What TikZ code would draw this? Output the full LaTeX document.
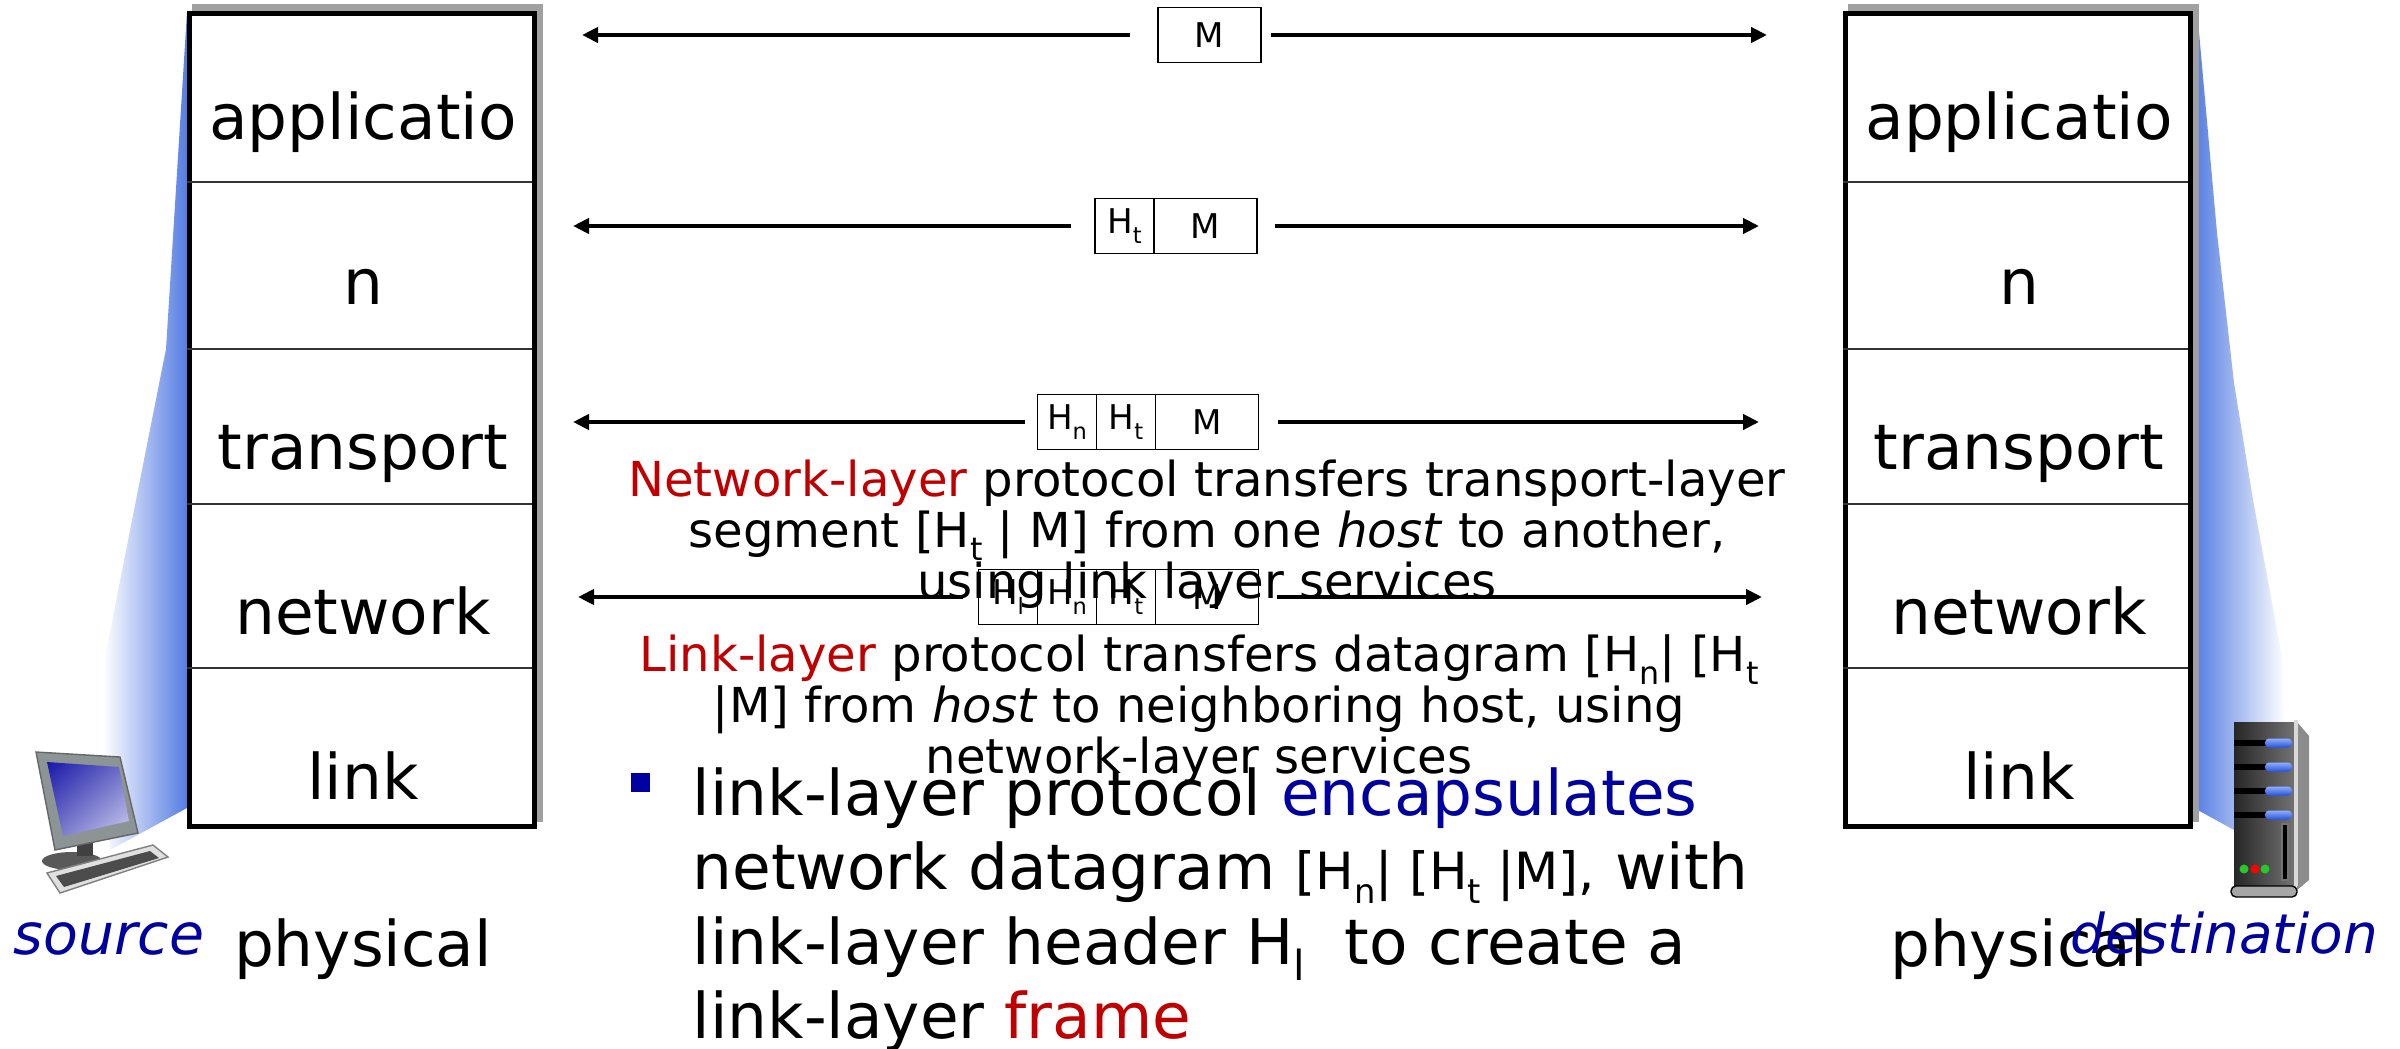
\documentclass[tikz,border=0pt]{standalone}
\usepackage{fontspec}
\setmainfont{DejaVu Sans}
\usetikzlibrary{arrows.meta,positioning,shadings}

\definecolor{hostblue}{RGB}{0,0,160}
\definecolor{alertred}{RGB}{192,0,0}
\definecolor{wedgeblue}{RGB}{84,124,226}
\definecolor{shadowgray}{RGB}{160,160,160}
\definecolor{screendark}{RGB}{24,24,168}
\definecolor{screenmid}{RGB}{110,110,200}
\definecolor{screenlight}{RGB}{205,205,238}
\definecolor{bezelgray}{RGB}{140,148,150}
\definecolor{baylight}{RGB}{140,175,255}
\definecolor{baydark}{RGB}{40,80,220}
\definecolor{ledgreen}{RGB}{40,200,40}

% lowered index letter, as in H_t
\newcommand{\lowidx}[1]{\raisebox{-0.27em}{\scalebox{0.66}{#1}}}

\tikzset{
  stackline/.style={line width=0.05cm},
  layerline/.style={line width=0.45pt, draw=black!80},
  layer/.style={font=\fontsize{17.9}{21}\selectfont, anchor=base, inner sep=0pt},
  cell/.style={draw, line width=0.45pt, minimum height=0.55cm, inner sep=0pt,
    outer sep=0pt, font=\fontsize{9.7}{11}\selectfont},
  hcell/.style={cell, minimum width=0.59cm},
  mcell/.style={cell, minimum width=1.03cm},
  msg/.style={line width=0.04cm, -{Triangle[length=0.16cm, width=0.15cm]}},
  note/.style={font=\fontsize{13.7}{14.5}\selectfont, align=center, anchor=base, inner sep=0pt},
  hostname/.style={font=\fontsize{15.6}{18}\selectfont\itshape, text=hostblue,
    anchor=base west, inner sep=0pt}
}

\begin{document}
\begin{tikzpicture}
  \useasboundingbox (0,0) rectangle (24,-10.48);

  % blue fans between the hosts and their stacks
  \shade[left color=white, right color=wedgeblue]
    (1.87,-0.12) -- (1.66,-3.49) -- (1.36,-5.00) -- (1.05,-6.57) -- (1.03,-7.60)
    -- (1.10,-8.50) -- (1.87,-8.08) -- cycle;
  \shade[left color=wedgeblue, right color=white]
    (21.97,-0.10) -- (22.17,-2.33) -- (22.34,-3.83) -- (22.53,-5.00) -- (22.84,-6.68)
    -- (22.85,-7.20) -- (22.34,-8.30) -- (21.94,-8.08) -- cycle;

  % protocol stacks
  \foreach \sx/\nm in {0/src, 16.56/dst} {
    \begin{scope}[xshift=\sx cm]
      \fill[shadowgray] (1.92,-0.04) rectangle (5.43,-8.22);
      \draw[stackline, fill=white] (1.895,-0.135) rectangle (5.345,-8.265);
      \foreach \y in {1.82, 3.49, 5.04, 6.68}
        \draw[layerline] (1.87,-\y) -- (5.32,-\y);
      \node[layer] (\nm-app) at (3.63,-1.40) {applicatio};
      \node[layer] (\nm-n) at (3.63,-3.04) {n};
      \node[layer] (\nm-trans) at (3.63,-4.69) {transport};
      \node[layer] (\nm-net) at (3.63,-6.345) {network};
      \node[layer] (\nm-link) at (3.63,-7.99) {link};
      \node[layer] (\nm-phys) at (3.63,-9.66) {physical};
    \end{scope}
  }

  % source: desktop computer
  \fill[black!65] (0.72,-8.61) ellipse (0.30 and 0.09);
  \fill[black!75] (0.77,-8.38) rectangle (0.93,-8.56);
  \draw[black!60, fill=bezelgray] (0.36,-7.52) -- (1.20,-7.57) -- (1.38,-8.33) -- (0.55,-8.50) -- cycle;
  \shade[upper left=screendark, upper right=screenmid, lower left=screenmid, lower right=screenlight]
    (0.47,-7.62) -- (1.19,-7.67) -- (1.29,-8.21) -- (0.63,-8.36) -- cycle;
  \draw[black!50, fill=black!12] (0.47,-8.73) -- (1.53,-8.45) -- (1.68,-8.57) -- (0.60,-8.93) -- cycle;
  \fill[black!70] (0.56,-8.76) -- (1.50,-8.51) -- (1.59,-8.58) -- (0.64,-8.87) -- cycle;

  % destination: server tower
  \shade[left color=black!85, right color=black!55] (22.34,-7.22) rectangle (22.95,-8.87);
  \fill[black!45] (22.97,-7.22) -- (23.09,-7.36) -- (23.09,-8.80) -- (22.97,-8.90) -- cycle;
  \draw[black!15, line width=1pt] (22.96,-7.20) -- (22.96,-8.86);
  \foreach \y in {7.43, 7.67, 7.91, 8.15} {
    \fill[black] (22.34,-\y) ++(0,0.03) rectangle ++(0.36,-0.06);
    \shade[top color=baylight, bottom color=baydark, rounded corners=0.04cm]
      (22.65,-\y) ++(0,0.045) rectangle ++(0.27,-0.09);
  }
  \draw[black!55, fill=black] (22.82,-8.24) rectangle (22.88,-8.80);
  \fill[ledgreen] (22.44,-8.69) circle (0.045);
  \fill[red] (22.55,-8.69) circle (0.045);
  \fill[ledgreen] (22.65,-8.69) circle (0.045);
  \draw[fill=black!35, rounded corners=0.05cm] (22.31,-8.86) rectangle (22.97,-8.97);

  \node[hostname, font=\fontsize{16.2}{18}\selectfont\itshape] (source) at (0.13,-9.54) {source};
  \node[hostname] (destination) at (20.70,-9.53) {destination};

  % message passed at each layer
  \node[mcell] (r1m) at (12.095,-0.35) {M};

  \node[hcell] (r2t) at (11.245,-2.26) {H\lowidx{t}};
  \node[mcell] (r2m) [right=0pt of r2t] {M};

  \node[hcell] (r3n) at (10.67,-4.22) {H\lowidx{n}};
  \node[hcell] (r3t) [right=0pt of r3n] {H\lowidx{t}};
  \node[mcell] (r3m) [right=0pt of r3t] {M};

  \node[hcell] (r4l) at (10.08,-5.97) {H\lowidx{l}};
  \node[hcell] (r4n) [right=0pt of r4l] {H\lowidx{n}};
  \node[hcell] (r4t) [right=0pt of r4n] {H\lowidx{t}};
  \node[mcell] (r4m) [right=0pt of r4t] {M};

  \coordinate (r1w) at (5.82,-0.35);  \coordinate (r1e) at (17.67,-0.35);
  \coordinate (r2w) at (5.73,-2.26);  \coordinate (r2e) at (17.59,-2.26);
  \coordinate (r3w) at (5.73,-4.22);  \coordinate (r3e) at (17.59,-4.22);
  \coordinate (r4w) at (5.78,-5.97);  \coordinate (r4e) at (17.62,-5.97);

  \draw[msg, shorten <=0.28cm] (r1m.west) -- (r1w);
  \draw[msg, shorten <=0.10cm] (r1m.east) -- (r1e);
  \draw[msg, shorten <=0.24cm] (r2t.west) -- (r2w);
  \draw[msg, shorten <=0.18cm] (r2m.east) -- (r2e);
  \draw[msg, shorten <=0.13cm] (r3n.west) -- (r3w);
  \draw[msg, shorten <=0.19cm] (r3m.east) -- (r3e);
  \draw[msg, shorten <=0.16cm] (r4l.west) -- (r4w);
  \draw[msg, shorten <=0.18cm] (r4m.east) -- (r4e);

  % explanations (anchored on the baseline of their last line)
  \node[note] (netnote) at (12.07,-5.98) {{\color{alertred}Network-layer} protocol transfers transport-layer\\
    segment [H\lowidx{t} | M] from one \textit{host} to another,\\
    using link layer services};
  \node[note] (linknote) at (11.99,-7.73) {{\color{alertred}Link-layer} protocol transfers datagram [H\lowidx{n}| [H\lowidx{t}\\
    |M] from \textit{host} to neighboring host, using\\
    network-layer services};

  \node[fill=hostblue, minimum size=0.19cm, inner sep=0pt] (bullet) at (6.405,-7.825) {};
  \node[font=\fontsize{17.9}{21.06}\selectfont, align=left, anchor=base west, inner sep=0pt] (encap)
    at (6.92,-10.38) {link-layer protocol {\color{hostblue}encapsulates}\\
    network datagram {\fontsize{14.6}{16}\selectfont [H\lowidx{n}| [H\lowidx{t} |M],} with\\
    link-layer header H\lowidx{l}\ \ to create a\\
    link-layer {\color{alertred}frame}};
\end{tikzpicture}
\end{document}
